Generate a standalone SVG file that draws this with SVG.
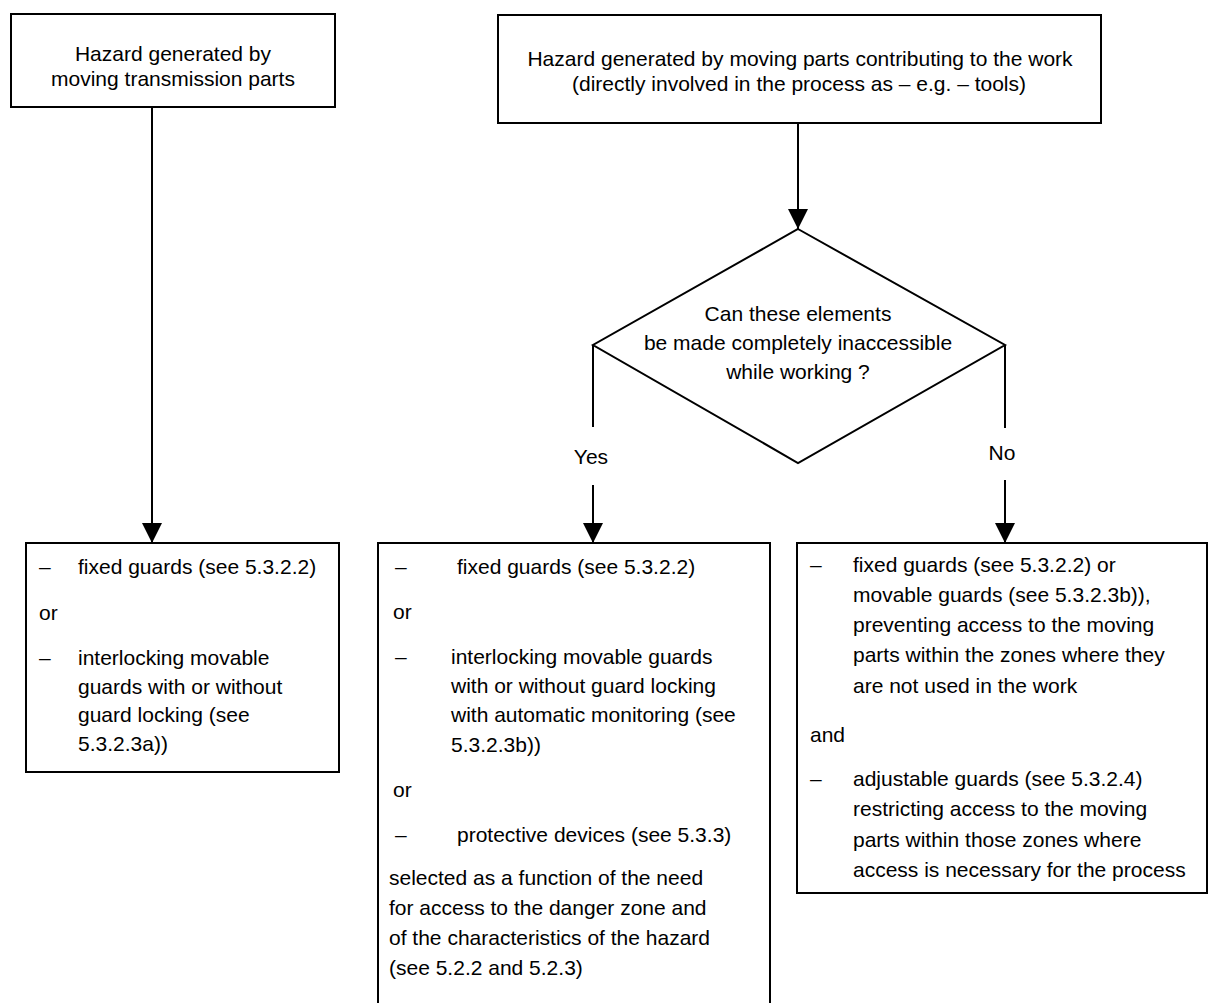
<svg xmlns="http://www.w3.org/2000/svg" width="1211" height="1003" viewBox="0 0 1211 1003">
<defs>
<style>
.box{fill:#fff;stroke:#000;stroke-width:2}
.t{font-family:"Liberation Sans",Arial,sans-serif;font-size:21px;fill:#000}
.c{text-anchor:middle}
.conn line{stroke:#000;stroke-width:2;fill:none}
</style>
<marker id="ah" markerUnits="userSpaceOnUse" markerWidth="20" markerHeight="20" refX="20" refY="10" orient="auto" viewBox="0 0 20 20">
<path d="M0,0 L20,10 L0,20 z" fill="#000"/>
</marker>
</defs>
<rect width="1211" height="1003" fill="#fff"/>

<g id="connectors" class="conn">
<line x1="152" y1="107" x2="152" y2="543" marker-end="url(#ah)"/>
<line x1="798" y1="123" x2="798" y2="229" marker-end="url(#ah)"/>
<line x1="593" y1="345" x2="593" y2="427"/>
<line x1="593" y1="485" x2="593" y2="543" marker-end="url(#ah)"/>
<line x1="1005" y1="345" x2="1005" y2="428"/>
<line x1="1005" y1="480" x2="1005" y2="543" marker-end="url(#ah)"/>
<text class="t c" x="591" y="464">Yes</text>
<text class="t c" x="1002" y="460">No</text>
</g>

<g id="hazard-transmission">
<rect class="box" x="11" y="14" width="324" height="93"/>
<text class="t c" x="173" y="61">Hazard generated by</text>
<text class="t c" x="173" y="86">moving transmission parts</text>
</g>

<g id="hazard-work">
<rect class="box" x="498" y="15" width="603" height="108"/>
<text class="t c" x="800" y="66">Hazard generated by moving parts contributing to the work</text>
<text class="t c" x="799" y="91">(directly involved in the process as – e.g. – tools)</text>
</g>

<g id="decision">
<polygon points="798,229 1005,345 798,463 593,345" fill="#fff" stroke="#000" stroke-width="2"/>
<text class="t c" x="798" y="321">Can these elements</text>
<text class="t c" x="798" y="350">be made completely inaccessible</text>
<text class="t c" x="798" y="379">while working ?</text>
</g>

<g id="measures-transmission">
<rect class="box" x="26" y="543" width="313" height="229"/>
<text class="t" x="39" y="574">–</text>
<text class="t" x="78" y="574">fixed guards (see 5.3.2.2)</text>
<text class="t" x="39" y="620">or</text>
<text class="t" x="39" y="665">–</text>
<text class="t" x="78" y="665">interlocking movable</text>
<text class="t" x="78" y="694">guards with or without</text>
<text class="t" x="78" y="722">guard locking (see</text>
<text class="t" x="78" y="751">5.3.2.3a))</text>
</g>

<g id="measures-yes">
<rect class="box" x="378" y="543" width="392" height="480"/>
<text class="t" x="395" y="574">–</text>
<text class="t" x="457" y="574">fixed guards (see 5.3.2.2)</text>
<text class="t" x="393" y="619">or</text>
<text class="t" x="395" y="664">–</text>
<text class="t" x="451" y="664">interlocking movable guards</text>
<text class="t" x="451" y="693">with or without guard locking</text>
<text class="t" x="451" y="722">with automatic monitoring (see</text>
<text class="t" x="451" y="752">5.3.2.3b))</text>
<text class="t" x="393" y="797">or</text>
<text class="t" x="395" y="842">–</text>
<text class="t" x="457" y="842">protective devices (see 5.3.3)</text>
<text class="t" x="389" y="885">selected as a function of the need</text>
<text class="t" x="389" y="915">for access to the danger zone and</text>
<text class="t" x="389" y="945">of the characteristics of the hazard</text>
<text class="t" x="389" y="975">(see 5.2.2 and 5.2.3)</text>
</g>

<g id="measures-no">
<rect class="box" x="797" y="543" width="410" height="350"/>
<text class="t" x="810" y="572">–</text>
<text class="t" x="853" y="572">fixed guards  (see 5.3.2.2) or</text>
<text class="t" x="853" y="602">movable guards (see 5.3.2.3b)),</text>
<text class="t" x="853" y="632">preventing access to the moving</text>
<text class="t" x="853" y="662">parts within the zones where they</text>
<text class="t" x="853" y="693">are not used in the work</text>
<text class="t" x="810" y="742">and</text>
<text class="t" x="810" y="786">–</text>
<text class="t" x="853" y="786">adjustable guards (see 5.3.2.4)</text>
<text class="t" x="853" y="816">restricting access to the moving</text>
<text class="t" x="853" y="847">parts within those zones where</text>
<text class="t" x="853" y="877">access is necessary for the process</text>
</g>
</svg>
